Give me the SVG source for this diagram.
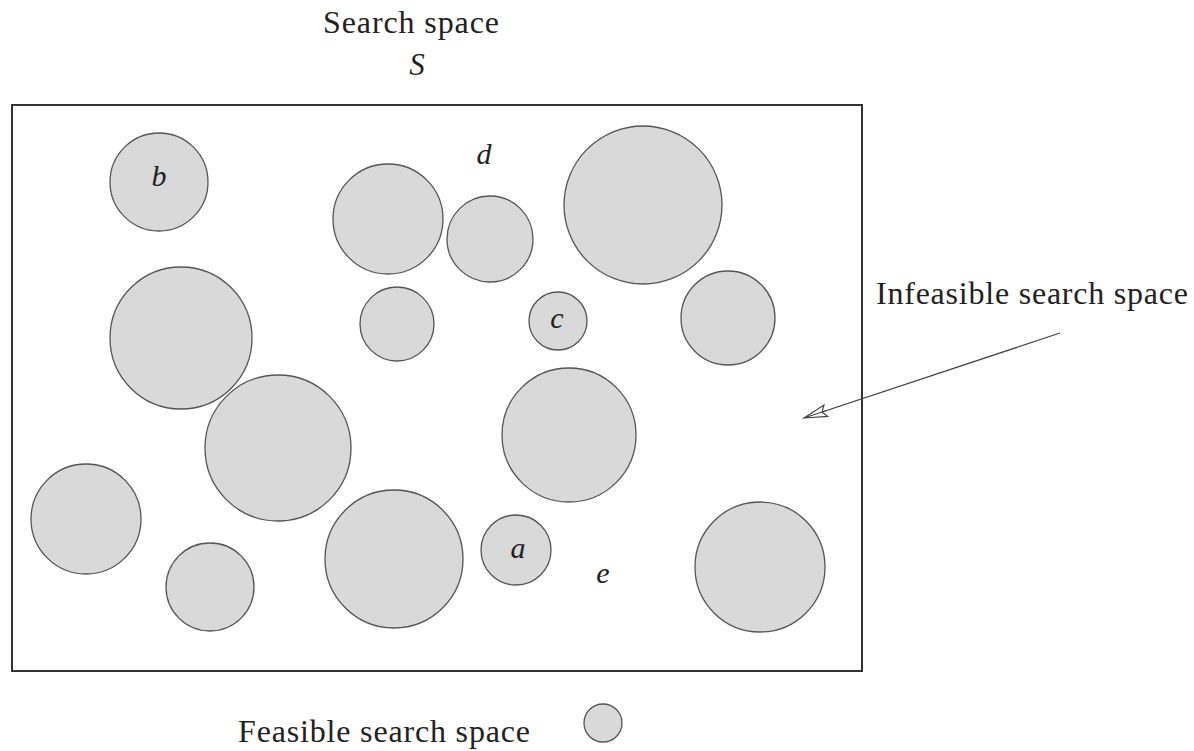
<svg xmlns="http://www.w3.org/2000/svg" width="1194" height="751" viewBox="0 0 1194 751">
<style>
.f{fill:#d9d9d9;stroke:#555;stroke-width:1.3}
.t{font-family:"Liberation Serif",serif;fill:#222}
.l{font-family:"Liberation Serif",serif;font-style:italic;font-size:30px;fill:#222;text-anchor:middle}
</style>
<defs>
<marker id="ah" markerWidth="26" markerHeight="14" refX="24" refY="7" orient="auto" markerUnits="userSpaceOnUse">
<path d="M1,7 L24,7 M24,7 L1,1 L5,7 L1,13 Z" fill="#fff" stroke="#444" stroke-width="1.2"/>
</marker>
</defs>
<rect width="1194" height="751" fill="#fff"/>
<text class="t" x="411" y="33" font-size="32" text-anchor="middle" textLength="176">Search space</text>
<text class="t" x="417" y="75" font-size="31" font-style="italic" text-anchor="middle">S</text>
<g id="space"><rect x="12" y="105" width="850" height="566" fill="none" stroke="#333" stroke-width="2"/></g>
<g id="regions">
<circle class="f" cx="159" cy="182" r="49"/>
<circle class="f" cx="388" cy="219" r="55"/>
<circle class="f" cx="490" cy="239" r="43"/>
<circle class="f" cx="643" cy="205" r="79"/>
<circle class="f" cx="181" cy="338" r="71"/>
<circle class="f" cx="397" cy="324" r="37"/>
<circle class="f" cx="558" cy="321" r="29"/>
<circle class="f" cx="728" cy="318" r="47"/>
<circle class="f" cx="278" cy="448" r="73"/>
<circle class="f" cx="569" cy="435" r="67"/>
<circle class="f" cx="86" cy="519" r="55"/>
<circle class="f" cx="394" cy="559" r="69"/>
<circle class="f" cx="516" cy="550" r="35"/>
<circle class="f" cx="210" cy="587" r="44"/>
<circle class="f" cx="760" cy="567" r="65"/>
</g>
<g id="labels">
<text class="l" x="159" y="186">b</text>
<text class="l" x="484" y="164">d</text>
<text class="l" x="557" y="328">c</text>
<text class="l" x="518" y="558">a</text>
<text class="l" x="603" y="583">e</text>
</g>
<g id="connectors">
<line x1="1060" y1="333" x2="804" y2="418" stroke="#444" stroke-width="1.3" marker-end="url(#ah)"/>
</g>
<text class="t" x="876" y="304" font-size="32" textLength="312">Infeasible search space</text>
<g id="legend">
<text class="t" x="238" y="742" font-size="32" textLength="292">Feasible search space</text>
<circle class="f" cx="603" cy="723" r="19"/>
</g>
</svg>
